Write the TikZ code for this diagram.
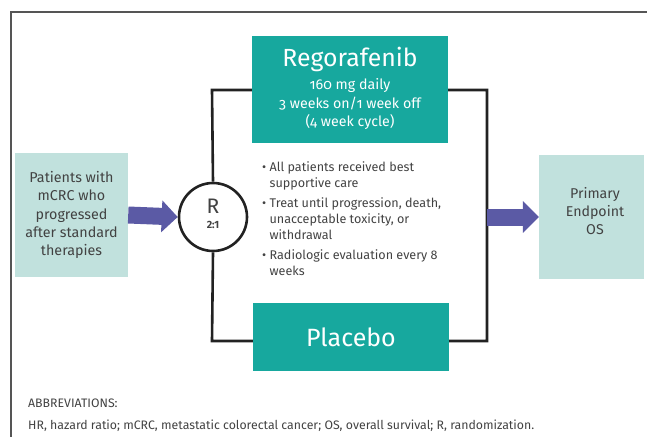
\documentclass[tikz,border=0pt]{standalone}
\usepackage{fontspec}
\setmainfont{Fira Sans}
\newfontfamily\firaold[Numbers=OldStyle]{Fira Sans}
\usetikzlibrary{arrows.meta}
\definecolor{teal1}{HTML}{17A89E}
\definecolor{lteal}{HTML}{C1E1DD}
\definecolor{purp}{HTML}{5B5AA5}
\definecolor{txt}{HTML}{424242}
\definecolor{frame}{HTML}{555555}
\definecolor{brk}{HTML}{222222}
\tikzset{
  darkbox/.style={fill=teal1, inner sep=0pt, text=white, align=center},
  lightbox/.style={fill=lteal, inner sep=0pt, text=txt, align=center},
  fatarrow/.style={draw=purp, line width=17pt, -{Triangle[length=16pt,width=31pt]}},
  bracket/.style={draw=brk, line width=2.6pt, line join=miter},
  bul/.style={anchor=north west, align=left, text=txt, inner sep=0pt, font=\fontsize{12.6}{16}\selectfont},
  abbr/.style={anchor=base west, text=txt, inner sep=0pt, font=\fontsize{12.3}{14}\selectfont}
}
\begin{document}
\begin{tikzpicture}[x=1pt,y=-1pt]
\useasboundingbox (0,0) rectangle (647,436);
% frame
\draw[frame, line width=1.5pt] (11,437) -- (11,12) -- (648,12);
% bracket
\coordinate (tl) at (212,90);
\coordinate (tr) at (487,90);
\coordinate (br) at (487,341);
\coordinate (bl) at (212,341);
\coordinate (rmid) at (487,217);
\node[circle, draw=brk, line width=2.6pt, fill=white, minimum size=68pt, inner sep=0pt] (R) at (213,217) {};
\draw[bracket] (R.north) -- (tl) -- (tr) -- (br) -- (bl) -- (R.south);
% boxes
\node[darkbox, minimum width=196pt, minimum height=107pt] (reg) at (350,89.5) {};
\node[text=white, inner sep=0pt, font=\fontsize{24.8}{28}\selectfont] (regt) at (350,59) {Regorafenib};
\node[text=white, inner sep=0pt, align=center, font=\firaold\fontsize{14.2}{18.7}\selectfont] (regs) at (350,104) {160 mg daily\\3 weeks on/1 week off\\(4 week cycle)};
\node[darkbox, minimum width=196pt, minimum height=68pt, font=\fontsize{25}{30}\selectfont] (plac) at (351,337) {Placebo};
\node[lightbox, minimum width=113pt, minimum height=124pt, font=\fontsize{14.3}{18.2}\selectfont] (pat) at (71.5,215) {Patients with\\mCRC who\\progressed\\after standard\\therapies};
\node[lightbox, minimum width=105pt, minimum height=124pt] (prim) at (591.5,217) {};
\node[text=txt, inner sep=0pt, align=center, font=\fontsize{14.2}{18}\selectfont] (primt) at (595,211) {Primary\\Endpoint\\OS};
% R label
\node[text=txt, inner sep=0pt, font=\fontsize{21}{21}\selectfont] (rl) at (213,206) {R};
\node[text=txt, inner sep=0pt, font=\bfseries\fontsize{10.5}{11}\selectfont] (rr) at (213,225) {2:1};
% arrows
\draw[fatarrow] (pat.east) -- (R.west);
\draw[fatarrow] (rmid) -- (prim.west);
% bullets
\node[bul] (b1) at (262,161) {\textbullet\ All patients received best\\\phantom{\textbullet\ }supportive care};
\node[bul] (b2) at (262,197) {\textbullet\ Treat until progression, death,\\\phantom{\textbullet\ }unacceptable toxicity, or\\\phantom{\textbullet\ }withdrawal};
\node[bul] (b3) at (262,249) {\textbullet\ Radiologic evaluation every 8\\\phantom{\textbullet\ }weeks};
% abbreviations
\node[abbr] (ab1) at (28,407) {ABBREVIATIONS:};
\node[abbr] (ab2) at (28,429) {HR, hazard ratio; mCRC, metastatic colorectal cancer; OS, overall survival; R, randomization.};
\end{tikzpicture}
\end{document}
